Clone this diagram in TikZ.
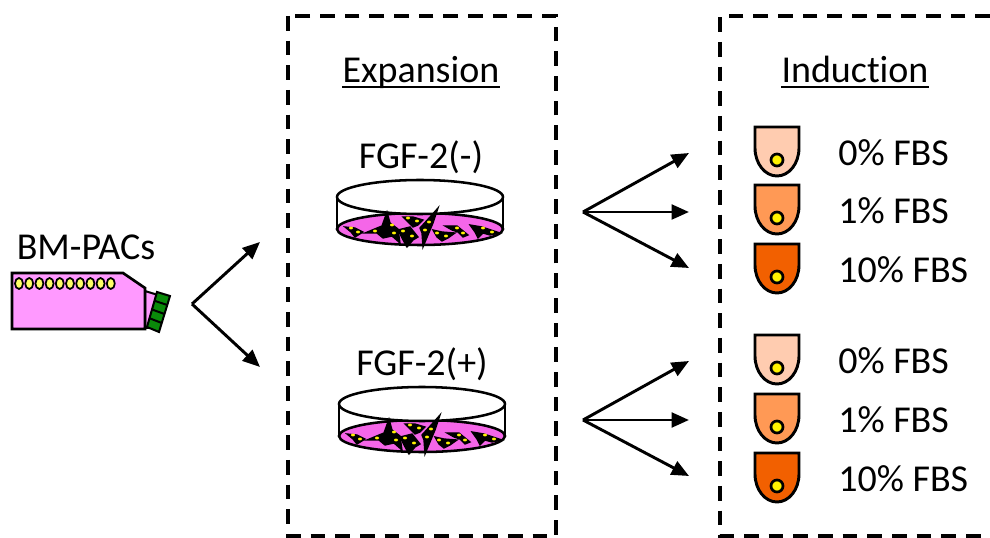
\documentclass[tikz,border=0pt]{standalone}
\usepackage{fontspec}
\setmainfont[Ligatures=NoCommon]{Carlito}
\usetikzlibrary{arrows.meta,positioning,calc}

\definecolor{flaskpink}{HTML}{FF99FF}
\definecolor{dishpink}{HTML}{F566E8}
\definecolor{capgreen}{HTML}{0A8A0A}
\definecolor{beadyellow}{HTML}{FFFF66}
\definecolor{fbsnone}{HTML}{FFCCB0}
\definecolor{fbslow}{HTML}{FF9955}
\definecolor{fbshigh}{HTML}{F26000}

\tikzset{
  txt/.style={font=\fontsize{28.5}{34}\selectfont, inner sep=0pt},
  fbs/.style={txt, anchor=west},
  head/.style={txt, anchor=base},
  headrule/.style={line width=1.7pt},
  box/.style={draw, line width=2.6pt, dash pattern=on 11pt off 7.5pt},
  fan/.style={-{Stealth[length=13pt,width=11pt,inset=0pt]}, line width=2.2pt},
  cell/.style={fill=black, draw=black, line width=1pt},
  spot/.style={fill=yellow},
  pics/dish/.style={code={
    % rim and medium first, the cells lie over both
    \draw[line width=1.9pt] (-83,0) -- (-83,32) (83,32) -- (83,0);
    \draw[line width=1.9pt, fill=dishpink] (0,32) ellipse [x radius=83, y radius=16];
    \draw[line width=1.9pt, fill=white] (0,0) ellipse [x radius=83, y radius=17];
    \filldraw[cell] (-75,30) -- (-65,31) -- (-57,35) -- (-65,40) -- (-69,35) -- cycle;
    \filldraw[cell] (-55,36) -- (-43,31) -- (-38,29) -- (-33,15) -- (-30,26) -- (-22,32) -- (-20,46) -- (-28,39) -- (-37,41) -- (-43,36) -- cycle;
    \filldraw[cell] (-22,33) -- (-10,30) -- (-2,40) -- (-7,43) -- (-13,50) -- (-18,41) -- cycle;
    \filldraw[cell] (-17,20) -- (-7,20) -- (3,23) -- (-2,28) -- (-7,30) -- (-12,25) -- cycle;
    \filldraw[cell] (18,11) -- (13,26) -- (8,38) -- (3,50) -- (2,36) -- (0,31) -- (10,20) -- cycle;
    \filldraw[cell] (13,33) -- (22,35) -- (35,36) -- (28,41) -- (22,44) -- (17,40) -- cycle;
    \filldraw[cell] (25,29) -- (37,29) -- (48,38) -- (43,40) -- (38,35) -- (32,33) -- cycle;
    \filldraw[cell] (50,28) -- (62,30) -- (80,36) -- (70,38) -- (63,36) -- (58,41) -- (55,35) -- cycle;
    \foreach \sx/\sy in {-69/31, -62/35, -45/34, -28/28, -26/36, -17/34, -8/39, -12/21, -3/24, 9/25, 5/33, 17/36, 26/39, 37/31, 43/36, 63/31, 72/35}
      \fill[spot] (\sx,\sy) ellipse [x radius=2, y radius=1.4];
  }},
  pics/tube/.style={code={
    \draw[line width=2.2pt, fill=#1] (-22,0) -- (22,0) -- (22,21) arc [start angle=0, end angle=180, x radius=22, y radius=28] -- cycle;
    \draw[line width=2pt, fill=yellow] (0,33) circle (6);
  }}
}

\begin{document}
\begin{tikzpicture}[x=0.75pt, y=-0.75pt]
\useasboundingbox (0,0) rectangle (990,538);

% dashed frames
\draw[box] (288,16) rectangle (556,536);
\draw[box] (990,16) -- (720,16) -- (720,536) -- (990,536);

% flask with its cap and the cells inside
\draw[line width=1.5pt, fill=flaskpink] (145,291) -- (158,295) -- (148,328) -- (145,328) -- cycle;
\draw[line width=1.5pt, fill=capgreen] (157,292) -- (170,296) -- (159,332) -- (147,327) -- cycle;
\foreach \i in {1,2,3}
  \draw[line width=1.5pt] ($(157,292)!\i/4!(147,327)$) -- ($(170,296)!\i/4!(159,332)$);
\draw[line width=2pt, fill=flaskpink] (12,273) -- (123,273) -- (145,288) -- (145,329) -- (12,329) -- cycle;
\foreach \i in {0,...,9}
  \draw[line width=1.3pt, fill=beadyellow] (19+10.2*\i,283.5) ellipse [x radius=4, y radius=5.5];

\node[txt] (pacs) at (86,247) {BM-PACs};

% expansion column
\node[head] (expansion) at (421,83) {Expansion};
\draw[headrule] ($(expansion.base west)+(0,4)$) -- ($(expansion.base east)+(0,4)$);
\node[txt] (fgfneg) at (421,157) {FGF-2(-)};
\node[txt] (fgfpos) at (422,364) {FGF-2(+)};
\pic at (420,197) {dish};
\pic at (422,404) {dish};

% induction column
\node[head] (induction) at (855,83) {Induction};
\draw[headrule] ($(induction.base west)+(0,4)$) -- ($(induction.base east)+(0,4)$);
\foreach \y/\col/\lab/\name in {127/fbsnone/0\% FBS/a, 185/fbslow/1\% FBS/b, 244/fbshigh/10\% FBS/c,
                                335/fbsnone/0\% FBS/d, 394/fbslow/1\% FBS/e, 453/fbshigh/10\% FBS/f} {
  \pic at (777,\y) {tube=\col};
  \node[fbs] (fbs\name) at (838,\y+26) {\lab};
}

% connectors
\coordinate (split) at (192,304);
\coordinate (toneg) at (260,242);
\coordinate (topos) at (260,367);
\draw[fan] (split) -- (toneg);
\draw[fan] (split) -- (topos);

\coordinate (negfan) at (583,212);
\coordinate (posfan) at (583,420);
\foreach \src/\a/\b/\c in {negfan/153/212/268, posfan/361/420/476} {
  \foreach \y in {\a,\b,\c} {
    \coordinate (tip) at (689,\y);
    \draw[fan] (\src) -- (tip);
  }
}
\end{tikzpicture}
\end{document}
